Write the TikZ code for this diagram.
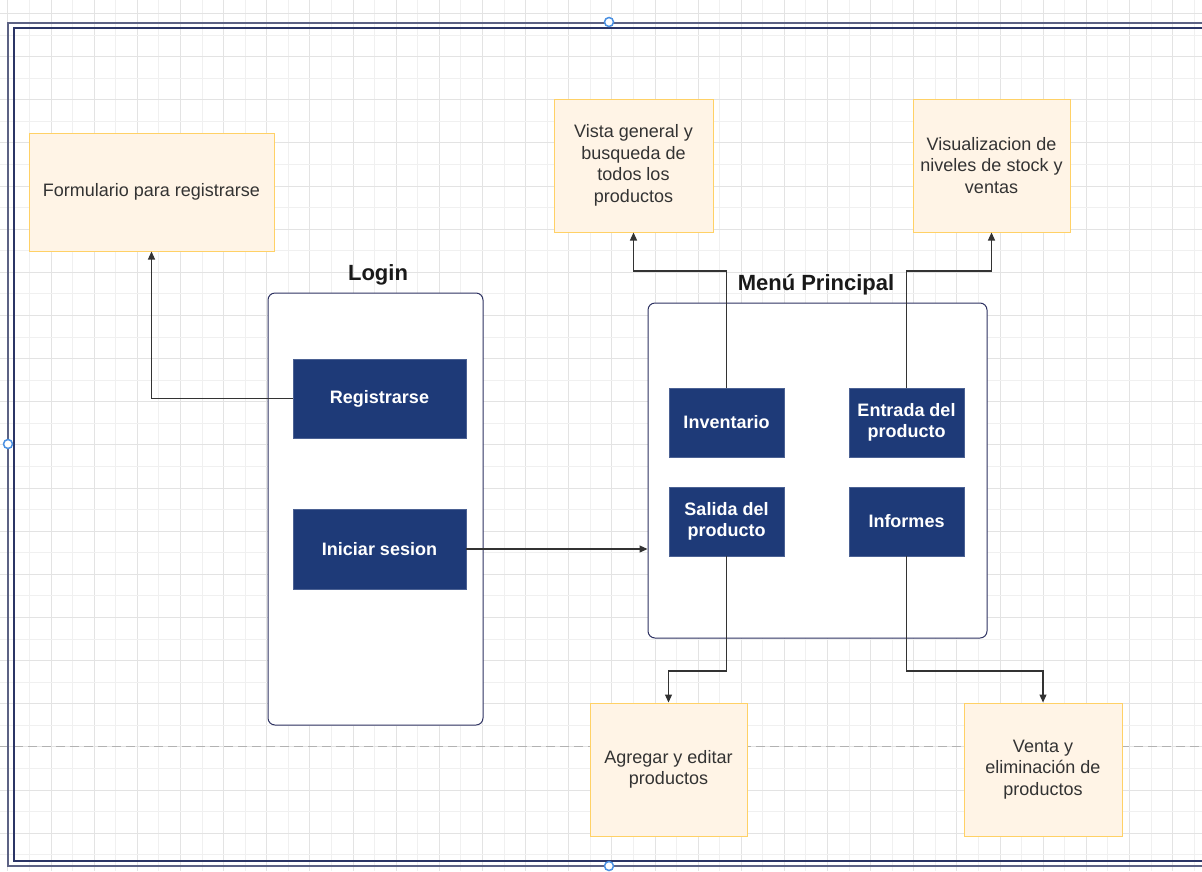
\documentclass[tikz,border=0pt]{standalone}
\usepackage{fontspec}
\setmainfont{Liberation Sans}
\usetikzlibrary{arrows.meta}
\definecolor{navy}{HTML}{1E3A78}
\definecolor{framein}{HTML}{2B3566}
\definecolor{frameout}{HTML}{5C6284}
\definecolor{contline}{HTML}{2E3262}
\definecolor{notefill}{HTML}{FFF4E6}
\definecolor{noteline}{HTML}{FFD166}
\definecolor{txt}{HTML}{333333}
\definecolor{conn}{HTML}{333333}
\definecolor{handle}{HTML}{4A90E2}
\definecolor{gridminor}{HTML}{F0F0F0}
\definecolor{gridmajor}{HTML}{E3E3E3}
\tikzset{
  note/.style={draw=noteline, fill=notefill, line width=1pt, inner sep=0pt, align=center,
    text=txt, font=\fontsize{18}{21.6}\selectfont},
  container/.style={draw=contline, fill=white, line width=1pt, rounded corners=7pt, inner sep=0pt},
  item/.style={draw=navy!80!white, fill=navy, line width=0.6pt, inner sep=0pt, align=center,
    text=white, font=\fontsize{18}{21.6}\selectfont\bfseries},
  ctitle/.style={inner sep=0pt, text=black!90, font=\fontsize{22}{26}\selectfont\bfseries},
  arr/.style={draw=conn, line width=1.2pt, -{Triangle[length=8pt,width=7pt]}},
  hnd/.style={draw=handle, fill=white, line width=1.5pt},
}
\begin{document}
\begin{tikzpicture}[x=1pt,y=-1pt]
\useasboundingbox (0,0) rectangle (1202,871);
\fill[white] (0,0) rectangle (1202,871);
% grid
\foreach \i in {0,...,56}{
  \pgfmathsetmacro\xx{round(7.4+21.57*\i)+0.5}
  \pgfmathtruncatemacro\ev{mod(\i,2)}
  \ifnum\ev=0
    \draw[gridmajor, line width=1.4pt] (\xx,0) -- (\xx,871);
  \else
    \draw[gridminor, line width=1pt] (\xx,0) -- (\xx,871);
  \fi
}
\foreach \i in {0,...,40}{
  \pgfmathsetmacro\yy{round(13+21.57*\i)+0.5}
  \pgfmathtruncatemacro\ev{mod(\i,2)}
  \ifnum\ev=0
    \draw[gridmajor, line width=1.4pt] (0,\yy) -- (1202,\yy);
  \else
    \draw[gridminor, line width=1pt] (0,\yy) -- (1202,\yy);
  \fi
}
% dashed guide
\draw[gray!60, line width=1pt, dash pattern=on 9pt off 5pt] (0,746) -- (1202,746);
% frame
\draw[frameout, line width=2pt] (1202,23) -- (8,23) -- (8,866) -- (1202,866);
\draw[framein, line width=2pt] (1202,28) -- (14,28) -- (14,861) -- (1202,861);

% notes
\node[note, minimum width=245pt, minimum height=118pt] (form) at (151.5,192) {Formulario para registrarse};
\node[note, minimum width=159pt, minimum height=133pt] (vista) at (633.5,165.5) {Vista general y\\busqueda de\\todos los\\productos};
\node[note, minimum width=157pt, minimum height=133pt] (visual) at (991.5,165.5) {Visualizacion de\\niveles de stock y\\ventas};
\node[note, minimum width=157pt, minimum height=133pt] (agregar) at (668.5,769.5) {Agregar y editar\\productos};
\node[note, minimum width=158pt, minimum height=133pt] (venta) at (1043,769.5) {Venta y\\eliminación de\\productos};

% containers
\node[container, minimum width=215pt, minimum height=432pt] (login) at (375.5,509) {};
\node[ctitle] (logint) at (378,275) {Login};
\node[container, minimum width=339pt, minimum height=335pt] (menu) at (817.5,470.5) {};
\node[ctitle] (menut) at (816,285) {Menú Principal};

% items
\node[item, minimum width=173pt, minimum height=79pt] (reg) at (379.5,398.5) {Registrarse};
\node[item, minimum width=173pt, minimum height=80pt] (ini) at (379.5,549) {Iniciar sesion};
\node[item, minimum width=115pt, minimum height=69pt] (inv) at (726.5,422.5) {Inventario};
\node[item, minimum width=115pt, minimum height=69pt] (ent) at (906.5,422.5) {Entrada del\\producto};
\node[item, minimum width=115pt, minimum height=69pt] (sal) at (726.5,521.5) {Salida del\\producto};
\node[item, minimum width=115pt, minimum height=69pt] (inf) at (906.5,521.5) {Informes};

% connector levels
\coordinate (top) at (0,271);
\coordinate (bot) at (0,671);

\draw[arr] (reg.west) -| (form.south);
\draw[arr] (ini.east) -- (ini.east -| menu.west);
\draw[arr] (inv.north) -- (inv.north |- top) -| (vista.south);
\draw[arr] (ent.north) -- (ent.north |- top) -| (visual.south);
\draw[arr] (sal.south) -- (sal.south |- bot) -| (agregar.north);
\draw[arr] (inf.south) -- (inf.south |- bot) -| (venta.north);

% selection handles
\coordinate (h1) at (609,22);
\coordinate (h2) at (8,444);
\coordinate (h3) at (609,866);
\draw[hnd] (h1) circle (4.5pt);
\draw[hnd] (h2) circle (4.5pt);
\draw[hnd] (h3) circle (4.5pt);
\end{tikzpicture}
\end{document}
